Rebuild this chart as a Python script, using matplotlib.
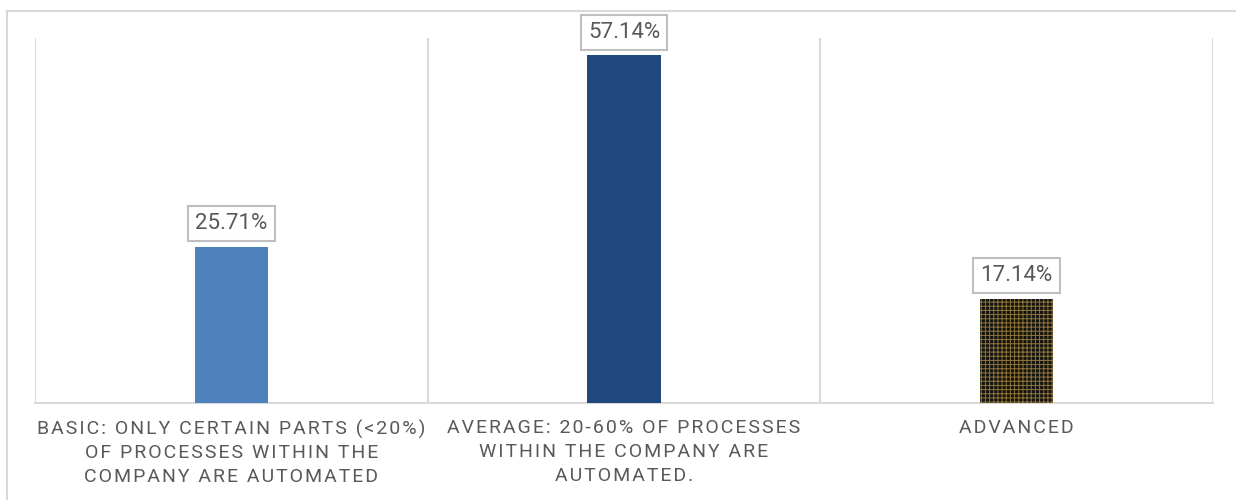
import matplotlib
matplotlib.use("Agg")
import matplotlib.pyplot as plt
from matplotlib.lines import Line2D

# automation level shares (percent of respondents)
categories = [
    "BASIC: ONLY CERTAIN PARTS (<20%)\nOF PROCESSES WITHIN THE\nCOMPANY ARE AUTOMATED",
    "AVERAGE: 20-60% OF PROCESSES\nWITHIN THE COMPANY ARE\nAUTOMATED.",
    "ADVANCED",
]
shares = [25.71, 57.14, 17.14]
value_labels = ["25.71%", "57.14%", "17.14%"]

GRID = "#d9d9d9"
TEXT = "#595959"

plt.rcParams["hatch.linewidth"] = 0.7


def spaced(s, gap="\u200a"):
    # fake letter spacing by putting a hair space between characters
    return "\n".join(gap.join(line) for line in s.split("\n"))


fig = plt.figure(figsize=(12.36, 5.0), dpi=100)
W, H = 1236, 500
ax = fig.add_axes([35 / W, 1 - 403 / H, (1213 - 35) / W, (403 - 38) / H])

x = list(range(len(shares)))
bars = ax.bar(x, shares, width=0.186, zorder=3)
bars[0].set_facecolor("#4f81bd")
bars[1].set_facecolor("#1f497d")
bars[2].set_facecolor("#141310")
bars[2].set_hatch("++++")
bars[2].set_edgecolor("#8f753a")
bars[2].set_linewidth(0)

ax.set_xlim(-0.5, len(shares) - 0.5)
ax.set_ylim(0, 60)

# category separators
for b in [i - 0.5 for i in range(len(shares) + 1)]:
    ax.axvline(b, color=GRID, lw=1.5, zorder=1)

for s in ["top", "left", "right"]:
    ax.spines[s].set_visible(False)
ax.spines["bottom"].set_color(GRID)
ax.spines["bottom"].set_linewidth(1.5)
ax.set_yticks([])
ax.set_xticks([])

for xi, v, lab in zip(x, shares, value_labels):
    ax.annotate(lab, (xi, v), xytext=(0, 9), textcoords="offset points",
                ha="center", va="bottom", fontsize=16, color=TEXT,
                family=["Roboto", "DejaVu Sans"], zorder=4,
                bbox=dict(boxstyle="square,pad=0.32", fc="white",
                          ec="#bfbfbf", lw=1.5))

for xi, cat in zip(x, categories):
    ax.text(xi, -0.045, spaced(cat), transform=ax.get_xaxis_transform(),
            ha="center", va="top", fontsize=14, color=TEXT,
            linespacing=1.4, family=["Roboto", "DejaVu Sans"])

# outer chart border, runs off the right and bottom edges
fig.add_artist(Line2D([7 / W, 1.0], [1 - 11 / H, 1 - 11 / H],
                      color=GRID, lw=1.5, transform=fig.transFigure))
fig.add_artist(Line2D([7 / W, 7 / W], [1 - 11 / H, 0.0],
                      color=GRID, lw=1.5, transform=fig.transFigure))

fig.savefig("out.png", dpi=100)
